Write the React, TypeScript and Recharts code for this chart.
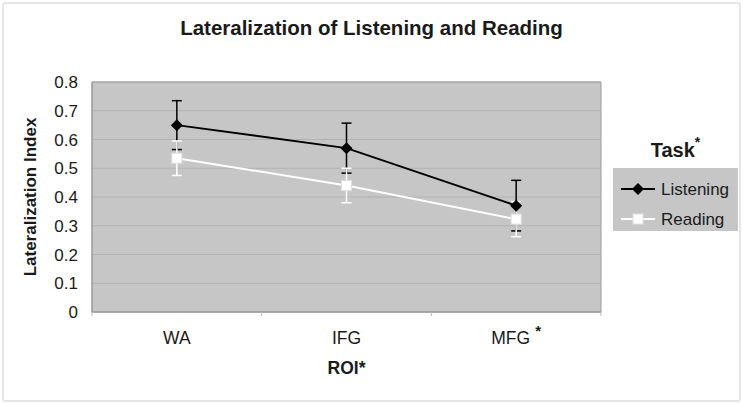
import { ComposedChart, Line, XAxis, YAxis, CartesianGrid, ErrorBar, Legend, ReferenceArea } from "recharts";

const FONT = "Arial, 'Liberation Sans', sans-serif";
const TEXT = "#1a1a1a";

const categories = ["WA", "IFG", "MFG"];
const starred = ["MFG"];
const listening = [0.65, 0.57, 0.37];
const listeningErr = [0.085, 0.087, 0.088];
const reading = [0.535, 0.44, 0.323];
const readingErr = [0.06, 0.06, 0.061];
const yTicks = [0, 0.1, 0.2, 0.3, 0.4, 0.5, 0.6, 0.7, 0.8];

const data = categories.map((roi, i) => ({
  roi,
  listening: listening[i],
  listeningErr: listeningErr[i],
  reading: reading[i],
  readingErr: readingErr[i],
}));

const Diamond = (props: any) => {
  const { cx, cy } = props;
  if (cx == null || cy == null) return null;
  return <path d={`M${cx},${cy - 6}L${cx + 6},${cy}L${cx},${cy + 6}L${cx - 6},${cy}Z`} fill="#000" />;
};

const Square = (props: any) => {
  const { cx, cy } = props;
  if (cx == null || cy == null) return null;
  return <rect x={cx - 5} y={cy - 5} width={10} height={10} fill="#fff" stroke="#e0e0e0" strokeWidth={1} />;
};

// category label in the middle of its band, tick marks on the band edges
const CatTick = (props: any) => {
  const { x, y, payload, index, visibleTicksCount } = props;
  const half = payload.offset || 0;
  const axisY = y - 20;
  const star = starred.includes(payload.value);
  const last = index === visibleTicksCount - 1;
  return (
    <g>
      <line x1={x - half} x2={x - half} y1={axisY} y2={axisY + 4} stroke="#bbb" />
      {last && <line x1={x + half} x2={x + half} y1={axisY} y2={axisY + 4} stroke="#bbb" />}
      <text x={x} y={y} dy="0.71em" textAnchor="middle" fontSize={17.5} fontFamily={FONT} fill={TEXT}>
        {payload.value}
        {star && (
          <tspan dx={5} dy={-8} fontSize={15} fontWeight="bold">*</tspan>
        )}
      </text>
    </g>
  );
};

const YLabel = (props: any) => {
  const { viewBox } = props;
  const x = viewBox.x + 36;
  const y = viewBox.y + viewBox.height / 2;
  return (
    <text x={x} y={y} transform={`rotate(-90, ${x}, ${y})`} textAnchor="middle" fontSize={17} fontWeight="bold" fontFamily={FONT} fill={TEXT}>
      Lateralization Index
    </text>
  );
};

const XLabel = (props: any) => {
  const { viewBox } = props;
  return (
    <text x={viewBox.x + viewBox.width / 2} y={viewBox.y + 62} textAnchor="middle" fontSize={17.5} fontWeight="bold" fontFamily={FONT} fill={TEXT}>
      ROI*
    </text>
  );
};

const LegendBox = () => (
  <div style={{ fontFamily: FONT, color: TEXT }}>
    <div style={{ fontSize: 20, fontWeight: "bold", textAlign: "center", marginBottom: 6, width: 125 }}>
      Task<sup style={{ fontSize: 14, position: "relative", top: -2 }}>*</sup>
    </div>
    <div style={{ background: "#c6c6c6", width: 125, height: 63, boxSizing: "border-box", paddingTop: 6 }}>
      <svg width={125} height={56}>
        <line x1={8} x2={42} y1={15} y2={15} stroke="#000" strokeWidth={2} />
        <Diamond cx={25} cy={15} />
        <text x={48} y={21} fontSize={17} fontFamily={FONT} fill={TEXT}>Listening</text>
        <line x1={8} x2={42} y1={45} y2={45} stroke="#fff" strokeWidth={2} />
        <Square cx={25} cy={45} />
        <text x={48} y={51} fontSize={17} fontFamily={FONT} fill={TEXT}>Reading</text>
      </svg>
    </div>
  </div>
);

export default function App() {
  return (
    <div style={{ position: "absolute", left: 0, top: 0, width: 743, height: 404, background: "#fff" }}>
      <div
        style={{
          position: "absolute",
          left: 2,
          top: 2,
          width: 735,
          height: 396,
          border: "2px solid #e6e6e6",
          borderRadius: 3,
        }}
      />
      <div
        style={{
          position: "absolute",
          left: 0,
          top: 16,
          width: 743,
          textAlign: "center",
          fontFamily: FONT,
          fontWeight: "bold",
          fontSize: 20.5,
          color: TEXT,
        }}
      >
        Lateralization of Listening and Reading
      </div>
      <ComposedChart width={743} height={404} data={data} margin={{ top: 82, right: 142, bottom: 0, left: 0 }}>
        <CartesianGrid vertical={false} stroke="#b2b2b2" fill="#c6c6c6" fillOpacity={1} />
        <XAxis
          dataKey="roi"
          scale="band"
          tick={<CatTick />}
          tickLine={false}
          tickSize={6}
          tickMargin={14}
          axisLine={{ stroke: "#999" }}
          height={92}
          label={<XLabel />}
        />
        <YAxis
          domain={[0, 0.8]}
          ticks={yTicks}
          width={92}
          tickLine={false}
          tickMargin={8}
          axisLine={{ stroke: "#999" }}
          tick={{ fontSize: 17, fontFamily: FONT, fill: TEXT }}
          label={<YLabel />}
        />
        <ReferenceArea y1={0} y2={0.8} fill="none" stroke="#9c9c9c" strokeWidth={1} />
        <Legend
          verticalAlign="middle"
          align="center"
          layout="vertical"
          content={<LegendBox />}
          wrapperStyle={{ left: 613, top: 136, width: 125 }}
        />
        <Line
          dataKey="listening"
          name="Listening"
          stroke="#000"
          strokeWidth={2}
          dot={<Diamond />}
          activeDot={false}
          isAnimationActive={false}
        >
          <ErrorBar dataKey="listeningErr" width={5} stroke="#000" strokeWidth={1.5} direction="y" />
        </Line>
        <Line
          dataKey="reading"
          name="Reading"
          stroke="#fff"
          strokeWidth={2}
          dot={<Square />}
          activeDot={false}
          isAnimationActive={false}
        >
          <ErrorBar dataKey="readingErr" width={5} stroke="#fff" strokeWidth={1.5} direction="y" />
        </Line>
      </ComposedChart>
    </div>
  );
}
